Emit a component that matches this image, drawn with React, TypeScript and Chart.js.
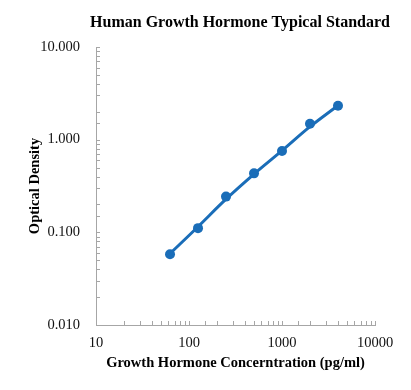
import React, { useEffect, useRef } from 'react';
import { Chart, registerables } from 'chart.js';

Chart.register(...registerables);

// Data
const concentrations = [62.5, 125, 250, 500, 1000, 2000, 4000];
const opticalDensity = [0.058, 0.111, 0.243, 0.433, 0.755, 1.487, 2.326];
// fitted standard curve as it passes the standards
const fittedDensity = [0.059, 0.115, 0.228, 0.425, 0.76, 1.38, 2.34];
const chartTitle = 'Human Growth Hormone Typical Standard';
const xAxisTitle = 'Growth Hormone Concerntration (pg/ml)';
const yAxisTitle = 'Optical Density';
const xLimits = [10, 10000];
const yLimits = [0.01, 10];

const FONT = '"Liberation Serif", "Times New Roman", serif';
const BLUE = '#1a6db8';
const AXIS = '#a6a6a6';

const isPow10 = (v: number) => Math.abs(Math.log10(v) - Math.round(Math.log10(v))) < 1e-9;

const decorPlugin = {
  id: 'decor',
  afterDraw(chart: any) {
    const ctx = chart.ctx;
    const area = chart.chartArea;
    ctx.save();
    // inward tick marks
    ctx.strokeStyle = AXIS;
    ctx.lineWidth = 1;
    const xs = chart.scales.x;
    for (const t of xs.ticks) {
      const p = Math.round(xs.getPixelForValue(t.value)) + 0.5;
      ctx.beginPath();
      ctx.moveTo(p, area.bottom);
      ctx.lineTo(p, area.bottom - 4);
      ctx.stroke();
    }
    const ys = chart.scales.y;
    for (const t of ys.ticks) {
      const p = Math.round(ys.getPixelForValue(t.value)) + 0.5;
      ctx.beginPath();
      ctx.moveTo(area.left, p);
      ctx.lineTo(area.left + 4, p);
      ctx.stroke();
    }
    // title
    ctx.font = 'bold 16px ' + FONT;
    ctx.fillStyle = '#000';
    ctx.textAlign = 'center';
    ctx.textBaseline = 'middle';
    ctx.fillText(chartTitle, 240, 23);
    ctx.restore();
  },
};

export default function App() {
  const ref = useRef<HTMLCanvasElement>(null);

  useEffect(() => {
    if (!ref.current) return;
    const chart = new Chart(ref.current, {
      type: 'line',
      data: {
        datasets: [
          {
            label: 'Standards',
            data: concentrations.map((x, i) => ({ x, y: opticalDensity[i] })),
            showLine: false,
            borderColor: BLUE,
            backgroundColor: BLUE,
            pointRadius: 5,
            pointBorderWidth: 0,
            pointBackgroundColor: BLUE,
            order: 0,
          },
          {
            label: 'Fit',
            data: concentrations.map((x, i) => ({ x, y: fittedDensity[i] })),
            borderColor: BLUE,
            backgroundColor: BLUE,
            borderWidth: 3,
            pointRadius: 0,
            tension: 0.4,
            borderCapStyle: 'round',
            fill: false,
            order: 1,
          },
        ],
      },
      options: {
        responsive: false,
        animation: false,
        layout: { padding: { top: 47, right: 36, left: 0, bottom: 0 } },
        plugins: {
          legend: { display: false },
          tooltip: { enabled: false },
          title: { display: false },
        },
        scales: {
          x: {
            type: 'logarithmic',
            position: 'bottom',
            min: xLimits[0],
            max: xLimits[1],
            afterFit: (s: any) => {
              s.height = 65;
            },
            grid: { display: false, drawTicks: false },
            border: { display: true, color: AXIS, width: 1 },
            ticks: {
              autoSkip: false,
              maxRotation: 0,
              padding: 9,
              color: '#111',
              font: { family: FONT, size: 14.5 },
              callback: (v: any) => (isPow10(Number(v)) ? String(Number(v)) : ''),
            },
            title: {
              display: true,
              text: xAxisTitle,
              color: '#000',
              font: { family: FONT, size: 14.5, weight: 'bold' },
              padding: { top: 0, bottom: 18.3 },
            },
          },
          y: {
            type: 'logarithmic',
            min: yLimits[0],
            max: yLimits[1],
            afterFit: (s: any) => {
              s.width = 96;
            },
            grid: { display: false, drawTicks: false },
            border: { display: true, color: AXIS, width: 1 },
            ticks: {
              autoSkip: false,
              padding: 16,
              color: '#111',
              font: { family: FONT, size: 14.5 },
              callback: (v: any) => (isPow10(Number(v)) ? Number(v).toFixed(3) : ''),
            },
            title: {
              display: true,
              text: yAxisTitle,
              color: '#000',
              font: { family: FONT, size: 14.5, weight: 'bold' },
              padding: { top: 26.3, bottom: 0 },
            },
          },
        },
      },
      plugins: [decorPlugin],
    } as any);
    return () => chart.destroy();
  }, []);

  return (
    <div style={{ position: 'fixed', left: 0, top: 0, width: 411, height: 390, background: '#fff' }}>
      <canvas ref={ref} width={411} height={390} style={{ display: 'block' }} />
    </div>
  );
}
